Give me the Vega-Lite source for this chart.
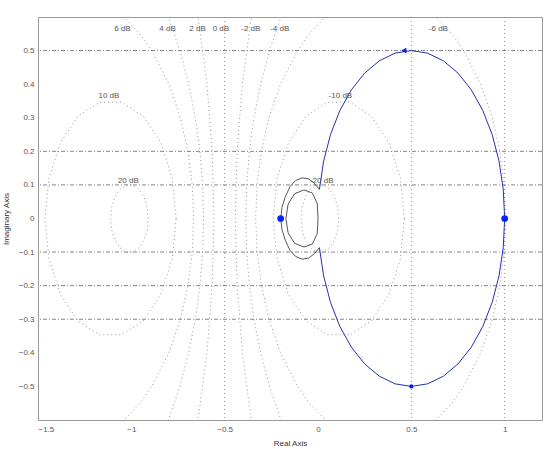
{
  "$schema": "https://vega.github.io/schema/vega-lite/v6.json",
  "width": 504,
  "height": 403,
  "autosize": {"type": "none"},
  "padding": {"left": 38, "top": 17, "right": 4, "bottom": 29},
  "background": "white",
  "config": {
    "view": {"stroke": "#999", "strokeWidth": 1},
    "axis": {"grid": false, "ticks": false, "domain": false, "labelColor": "#555", "labelFont": "Liberation Sans", "labelFontSize": 8, "titleFont": "Liberation Sans", "titleFontSize": 8, "titleFontWeight": "normal", "titleColor": "#333"},
    "text": {"font": "Liberation Sans"}
  },
  "datasets": {
    "hg": [{"y": 0.5}, {"y": 0.2}, {"y": 0.1}, {"y": -0.1}, {"y": -0.2}, {"y": -0.3}],
    "vg": [{"x": 0.5}, {"x": 1.0}, {"x": -0.5}],
    "mc": [
      {"c": "2dB", "o": 0, "x": -0.674, "y": -0.7}, {"c": "2dB", "o": 1, "x": -0.643, "y": -0.6}, {"c": "2dB", "o": 2, "x": -0.595, "y": -0.4}, {"c": "2dB", "o": 3, "x": -0.567, "y": -0.2}, {"c": "2dB", "o": 4, "x": -0.557, "y": 0}, {"c": "2dB", "o": 5, "x": -0.567, "y": 0.2}, {"c": "2dB", "o": 6, "x": -0.595, "y": 0.4}, {"c": "2dB", "o": 7, "x": -0.643, "y": 0.6}, {"c": "2dB", "o": 8, "x": -0.674, "y": 0.7},
      {"c": "-2dB", "o": 0, "x": -0.3257, "y": -0.7}, {"c": "-2dB", "o": 1, "x": -0.3574, "y": -0.6}, {"c": "-2dB", "o": 2, "x": -0.4052, "y": -0.4}, {"c": "-2dB", "o": 3, "x": -0.4334, "y": -0.2}, {"c": "-2dB", "o": 4, "x": -0.443, "y": 0}, {"c": "-2dB", "o": 5, "x": -0.4334, "y": 0.2}, {"c": "-2dB", "o": 6, "x": -0.4052, "y": 0.4}, {"c": "-2dB", "o": 7, "x": -0.3574, "y": 0.6}, {"c": "-2dB", "o": 8, "x": -0.3257, "y": 0.7},
      {"c": "4dB", "o": 0, "x": -0.881, "y": -0.7}, {"c": "4dB", "o": 1, "x": -0.8018, "y": -0.6}, {"c": "4dB", "o": 2, "x": -0.74, "y": -0.5}, {"c": "4dB", "o": 3, "x": -0.6924, "y": -0.4}, {"c": "4dB", "o": 4, "x": -0.657, "y": -0.3}, {"c": "4dB", "o": 5, "x": -0.6324, "y": -0.2}, {"c": "4dB", "o": 6, "x": -0.6179, "y": -0.1}, {"c": "4dB", "o": 7, "x": -0.6131, "y": 0}, {"c": "4dB", "o": 8, "x": -0.6179, "y": 0.1}, {"c": "4dB", "o": 9, "x": -0.6324, "y": 0.2}, {"c": "4dB", "o": 10, "x": -0.657, "y": 0.3}, {"c": "4dB", "o": 11, "x": -0.6924, "y": 0.4}, {"c": "4dB", "o": 12, "x": -0.74, "y": 0.5}, {"c": "4dB", "o": 13, "x": -0.8018, "y": 0.6}, {"c": "4dB", "o": 14, "x": -0.881, "y": 0.7},
      {"c": "-4dB", "o": 0, "x": -0.1189, "y": -0.7}, {"c": "-4dB", "o": 1, "x": -0.1982, "y": -0.6}, {"c": "-4dB", "o": 2, "x": -0.26, "y": -0.5}, {"c": "-4dB", "o": 3, "x": -0.3076, "y": -0.4}, {"c": "-4dB", "o": 4, "x": -0.343, "y": -0.3}, {"c": "-4dB", "o": 5, "x": -0.3676, "y": -0.2}, {"c": "-4dB", "o": 6, "x": -0.3821, "y": -0.1}, {"c": "-4dB", "o": 7, "x": -0.3869, "y": 0}, {"c": "-4dB", "o": 8, "x": -0.3821, "y": 0.1}, {"c": "-4dB", "o": 9, "x": -0.3676, "y": 0.2}, {"c": "-4dB", "o": 10, "x": -0.343, "y": 0.3}, {"c": "-4dB", "o": 11, "x": -0.3076, "y": 0.4}, {"c": "-4dB", "o": 12, "x": -0.26, "y": 0.5}, {"c": "-4dB", "o": 13, "x": -0.1982, "y": 0.6}, {"c": "-4dB", "o": 14, "x": -0.1189, "y": 0.7},
      {"c": "6dB", "o": 0, "x": -1.1758, "y": -0.65}, {"c": "6dB", "o": 1, "x": -1.0388, "y": -0.6}, {"c": "6dB", "o": 2, "x": -0.954, "y": -0.55}, {"c": "6dB", "o": 3, "x": -0.8905, "y": -0.5}, {"c": "6dB", "o": 4, "x": -0.7988, "y": -0.4}, {"c": "6dB", "o": 5, "x": -0.7371, "y": -0.3}, {"c": "6dB", "o": 6, "x": -0.6967, "y": -0.2}, {"c": "6dB", "o": 7, "x": -0.6736, "y": -0.1}, {"c": "6dB", "o": 8, "x": -0.6661, "y": 0}, {"c": "6dB", "o": 9, "x": -0.6736, "y": 0.1}, {"c": "6dB", "o": 10, "x": -0.6967, "y": 0.2}, {"c": "6dB", "o": 11, "x": -0.7371, "y": 0.3}, {"c": "6dB", "o": 12, "x": -0.7988, "y": 0.4}, {"c": "6dB", "o": 13, "x": -0.8905, "y": 0.5}, {"c": "6dB", "o": 14, "x": -0.954, "y": 0.55}, {"c": "6dB", "o": 15, "x": -1.0388, "y": 0.6}, {"c": "6dB", "o": 16, "x": -1.1758, "y": 0.65},
      {"c": "-6dB", "o": 0, "x": 0.3354, "y": 0.6693}, {"c": "-6dB", "o": 1, "x": 0.1758, "y": 0.65}, {"c": "-6dB", "o": 2, "x": 0.0388, "y": 0.6}, {"c": "-6dB", "o": 3, "x": -0.046, "y": 0.55}, {"c": "-6dB", "o": 4, "x": -0.1095, "y": 0.5}, {"c": "-6dB", "o": 5, "x": -0.2012, "y": 0.4}, {"c": "-6dB", "o": 6, "x": -0.2629, "y": 0.3}, {"c": "-6dB", "o": 7, "x": -0.3033, "y": 0.2}, {"c": "-6dB", "o": 8, "x": -0.3264, "y": 0.1}, {"c": "-6dB", "o": 9, "x": -0.3339, "y": 0}, {"c": "-6dB", "o": 10, "x": -0.3264, "y": -0.1}, {"c": "-6dB", "o": 11, "x": -0.3033, "y": -0.2}, {"c": "-6dB", "o": 12, "x": -0.2629, "y": -0.3}, {"c": "-6dB", "o": 13, "x": -0.2012, "y": -0.4}, {"c": "-6dB", "o": 14, "x": -0.1095, "y": -0.5}, {"c": "-6dB", "o": 15, "x": -0.046, "y": -0.55}, {"c": "-6dB", "o": 16, "x": 0.0388, "y": -0.6}, {"c": "-6dB", "o": 17, "x": 0.1758, "y": -0.65}, {"c": "-6dB", "o": 18, "x": 0.3354, "y": -0.6693}, {"c": "-6dB", "o": 19, "x": 0.495, "y": -0.65}, {"c": "-6dB", "o": 20, "x": 0.632, "y": -0.6}, {"c": "-6dB", "o": 21, "x": 0.7168, "y": -0.55}, {"c": "-6dB", "o": 22, "x": 0.7803, "y": -0.5}, {"c": "-6dB", "o": 23, "x": 0.872, "y": -0.4}, {"c": "-6dB", "o": 24, "x": 0.9337, "y": -0.3}, {"c": "-6dB", "o": 25, "x": 0.9741, "y": -0.2}, {"c": "-6dB", "o": 26, "x": 0.9972, "y": -0.1}, {"c": "-6dB", "o": 27, "x": 1.0047, "y": 0}, {"c": "-6dB", "o": 28, "x": 0.9972, "y": 0.1}, {"c": "-6dB", "o": 29, "x": 0.9741, "y": 0.2}, {"c": "-6dB", "o": 30, "x": 0.9337, "y": 0.3}, {"c": "-6dB", "o": 31, "x": 0.872, "y": 0.4}, {"c": "-6dB", "o": 32, "x": 0.7803, "y": 0.5}, {"c": "-6dB", "o": 33, "x": 0.7168, "y": 0.55}, {"c": "-6dB", "o": 34, "x": 0.632, "y": 0.6}, {"c": "-6dB", "o": 35, "x": 0.495, "y": 0.65}, {"c": "-6dB", "o": 36, "x": 0.3354, "y": 0.6693},
      {"c": "10dB", "o": 0, "x": -0.7597, "y": 0}, {"c": "10dB", "o": 1, "x": -0.7809, "y": 0.1202}, {"c": "10dB", "o": 2, "x": -0.8419, "y": 0.2259}, {"c": "10dB", "o": 3, "x": -0.9354, "y": 0.3043}, {"c": "10dB", "o": 4, "x": -1.0501, "y": 0.3461}, {"c": "10dB", "o": 5, "x": -1.1721, "y": 0.3461}, {"c": "10dB", "o": 6, "x": -1.2868, "y": 0.3043}, {"c": "10dB", "o": 7, "x": -1.3803, "y": 0.2259}, {"c": "10dB", "o": 8, "x": -1.4413, "y": 0.1202}, {"c": "10dB", "o": 9, "x": -1.4625, "y": 0}, {"c": "10dB", "o": 10, "x": -1.4413, "y": -0.1202}, {"c": "10dB", "o": 11, "x": -1.3803, "y": -0.2259}, {"c": "10dB", "o": 12, "x": -1.2868, "y": -0.3043}, {"c": "10dB", "o": 13, "x": -1.1721, "y": -0.3461}, {"c": "10dB", "o": 14, "x": -1.0501, "y": -0.3461}, {"c": "10dB", "o": 15, "x": -0.9354, "y": -0.3043}, {"c": "10dB", "o": 16, "x": -0.8419, "y": -0.2259}, {"c": "10dB", "o": 17, "x": -0.7809, "y": -0.1202}, {"c": "10dB", "o": 18, "x": -0.7597, "y": 0},
      {"c": "-10dB", "o": 0, "x": 0.4625, "y": 0}, {"c": "-10dB", "o": 1, "x": 0.4413, "y": 0.1202}, {"c": "-10dB", "o": 2, "x": 0.3803, "y": 0.2259}, {"c": "-10dB", "o": 3, "x": 0.2868, "y": 0.3043}, {"c": "-10dB", "o": 4, "x": 0.1721, "y": 0.3461}, {"c": "-10dB", "o": 5, "x": 0.0501, "y": 0.3461}, {"c": "-10dB", "o": 6, "x": -0.0646, "y": 0.3043}, {"c": "-10dB", "o": 7, "x": -0.1581, "y": 0.2259}, {"c": "-10dB", "o": 8, "x": -0.2191, "y": 0.1202}, {"c": "-10dB", "o": 9, "x": -0.2403, "y": 0}, {"c": "-10dB", "o": 10, "x": -0.2191, "y": -0.1202}, {"c": "-10dB", "o": 11, "x": -0.1581, "y": -0.2259}, {"c": "-10dB", "o": 12, "x": -0.0646, "y": -0.3043}, {"c": "-10dB", "o": 13, "x": 0.0501, "y": -0.3461}, {"c": "-10dB", "o": 14, "x": 0.1721, "y": -0.3461}, {"c": "-10dB", "o": 15, "x": 0.2868, "y": -0.3043}, {"c": "-10dB", "o": 16, "x": 0.3803, "y": -0.2259}, {"c": "-10dB", "o": 17, "x": 0.4413, "y": -0.1202}, {"c": "-10dB", "o": 18, "x": 0.4625, "y": 0},
      {"c": "20dB", "o": 0, "x": -0.9091, "y": 0}, {"c": "20dB", "o": 1, "x": -0.9152, "y": 0.0345}, {"c": "20dB", "o": 2, "x": -0.9327, "y": 0.0649}, {"c": "20dB", "o": 3, "x": -0.9596, "y": 0.0875}, {"c": "20dB", "o": 4, "x": -0.9926, "y": 0.0995}, {"c": "20dB", "o": 5, "x": -1.0276, "y": 0.0995}, {"c": "20dB", "o": 6, "x": -1.0606, "y": 0.0875}, {"c": "20dB", "o": 7, "x": -1.0875, "y": 0.0649}, {"c": "20dB", "o": 8, "x": -1.105, "y": 0.0345}, {"c": "20dB", "o": 9, "x": -1.1111, "y": 0}, {"c": "20dB", "o": 10, "x": -1.105, "y": -0.0345}, {"c": "20dB", "o": 11, "x": -1.0875, "y": -0.0649}, {"c": "20dB", "o": 12, "x": -1.0606, "y": -0.0875}, {"c": "20dB", "o": 13, "x": -1.0276, "y": -0.0995}, {"c": "20dB", "o": 14, "x": -0.9926, "y": -0.0995}, {"c": "20dB", "o": 15, "x": -0.9596, "y": -0.0875}, {"c": "20dB", "o": 16, "x": -0.9327, "y": -0.0649}, {"c": "20dB", "o": 17, "x": -0.9152, "y": -0.0345}, {"c": "20dB", "o": 18, "x": -0.9091, "y": 0},
      {"c": "-20dB", "o": 0, "x": 0.1111, "y": 0}, {"c": "-20dB", "o": 1, "x": 0.105, "y": 0.0345}, {"c": "-20dB", "o": 2, "x": 0.0875, "y": 0.0649}, {"c": "-20dB", "o": 3, "x": 0.0606, "y": 0.0875}, {"c": "-20dB", "o": 4, "x": 0.0276, "y": 0.0995}, {"c": "-20dB", "o": 5, "x": -0.0074, "y": 0.0995}, {"c": "-20dB", "o": 6, "x": -0.0404, "y": 0.0875}, {"c": "-20dB", "o": 7, "x": -0.0673, "y": 0.0649}, {"c": "-20dB", "o": 8, "x": -0.0848, "y": 0.0345}, {"c": "-20dB", "o": 9, "x": -0.0909, "y": 0}, {"c": "-20dB", "o": 10, "x": -0.0848, "y": -0.0345}, {"c": "-20dB", "o": 11, "x": -0.0673, "y": -0.0649}, {"c": "-20dB", "o": 12, "x": -0.0404, "y": -0.0875}, {"c": "-20dB", "o": 13, "x": -0.0074, "y": -0.0995}, {"c": "-20dB", "o": 14, "x": 0.0276, "y": -0.0995}, {"c": "-20dB", "o": 15, "x": 0.0606, "y": -0.0875}, {"c": "-20dB", "o": 16, "x": 0.0875, "y": -0.0649}, {"c": "-20dB", "o": 17, "x": 0.105, "y": -0.0345}, {"c": "-20dB", "o": 18, "x": 0.1111, "y": 0}
    ],
    "nyq": [
      {"o": 0, "x": 0.0076, "y": 0.0868}, {"o": 1, "x": 0.0302, "y": 0.171}, {"o": 2, "x": 0.067, "y": 0.25}, {"o": 3, "x": 0.117, "y": 0.3214}, {"o": 4, "x": 0.1786, "y": 0.383}, {"o": 5, "x": 0.25, "y": 0.433}, {"o": 6, "x": 0.329, "y": 0.4698}, {"o": 7, "x": 0.4132, "y": 0.4924}, {"o": 8, "x": 0.5, "y": 0.5}, {"o": 9, "x": 0.5868, "y": 0.4924}, {"o": 10, "x": 0.671, "y": 0.4698}, {"o": 11, "x": 0.75, "y": 0.433}, {"o": 12, "x": 0.8214, "y": 0.383}, {"o": 13, "x": 0.883, "y": 0.3214}, {"o": 14, "x": 0.933, "y": 0.25}, {"o": 15, "x": 0.9698, "y": 0.171}, {"o": 16, "x": 0.9924, "y": 0.0868}, {"o": 17, "x": 1.0, "y": 0},
      {"o": 18, "x": 0.9924, "y": -0.0868}, {"o": 19, "x": 0.9698, "y": -0.171}, {"o": 20, "x": 0.933, "y": -0.25}, {"o": 21, "x": 0.883, "y": -0.3214}, {"o": 22, "x": 0.8214, "y": -0.383}, {"o": 23, "x": 0.75, "y": -0.433}, {"o": 24, "x": 0.671, "y": -0.4698}, {"o": 25, "x": 0.5868, "y": -0.4924}, {"o": 26, "x": 0.5, "y": -0.5}, {"o": 27, "x": 0.4132, "y": -0.4924}, {"o": 28, "x": 0.329, "y": -0.4698}, {"o": 29, "x": 0.25, "y": -0.433}, {"o": 30, "x": 0.1786, "y": -0.383}, {"o": 31, "x": 0.117, "y": -0.3214}, {"o": 32, "x": 0.067, "y": -0.25}, {"o": 33, "x": 0.0302, "y": -0.171}, {"o": 34, "x": 0.0076, "y": -0.0868}
    ],
    "loop": [
      {"s": "outer", "o": 0, "x": 0.0076, "y": 0.0868}, {"s": "outer", "o": 1, "x": -0.02, "y": 0.105}, {"s": "outer", "o": 2, "x": -0.05, "y": 0.118}, {"s": "outer", "o": 3, "x": -0.085, "y": 0.121}, {"s": "outer", "o": 4, "x": -0.12, "y": 0.113}, {"s": "outer", "o": 5, "x": -0.15, "y": 0.095}, {"s": "outer", "o": 6, "x": -0.175, "y": 0.065}, {"s": "outer", "o": 7, "x": -0.193, "y": 0.033}, {"s": "outer", "o": 8, "x": -0.2, "y": 0}, {"s": "outer", "o": 9, "x": -0.193, "y": -0.033}, {"s": "outer", "o": 10, "x": -0.175, "y": -0.065}, {"s": "outer", "o": 11, "x": -0.15, "y": -0.095}, {"s": "outer", "o": 12, "x": -0.12, "y": -0.113}, {"s": "outer", "o": 13, "x": -0.085, "y": -0.121}, {"s": "outer", "o": 14, "x": -0.05, "y": -0.118}, {"s": "outer", "o": 15, "x": -0.02, "y": -0.105}, {"s": "outer", "o": 16, "x": 0.0076, "y": -0.0868},
      {"s": "inner", "o": 0, "x": 0.0, "y": 0}, {"s": "inner", "o": 1, "x": -0.004, "y": 0.045}, {"s": "inner", "o": 2, "x": -0.03, "y": 0.076}, {"s": "inner", "o": 3, "x": -0.075, "y": 0.085}, {"s": "inner", "o": 4, "x": -0.125, "y": 0.074}, {"s": "inner", "o": 5, "x": -0.16, "y": 0.043}, {"s": "inner", "o": 6, "x": -0.172, "y": 0}, {"s": "inner", "o": 7, "x": -0.16, "y": -0.043}, {"s": "inner", "o": 8, "x": -0.125, "y": -0.074}, {"s": "inner", "o": 9, "x": -0.075, "y": -0.085}, {"s": "inner", "o": 10, "x": -0.03, "y": -0.076}, {"s": "inner", "o": 11, "x": -0.004, "y": -0.045}, {"s": "inner", "o": 12, "x": 0.0, "y": 0}
    ],
    "dots": [{"x": -0.2, "y": 0, "k": "big"}, {"x": 1.0, "y": 0, "k": "big"}, {"x": 0.5, "y": -0.5, "k": "small"}],
    "labels": [
      {"t": "6 dB", "x": -1.048, "y": 0.565}, {"t": "4 dB", "x": -0.806, "y": 0.565}, {"t": "2 dB", "x": -0.645, "y": 0.565}, {"t": "0 dB", "x": -0.52, "y": 0.565}, {"t": "-2 dB", "x": -0.36, "y": 0.565}, {"t": "-4 dB", "x": -0.205, "y": 0.565}, {"t": "-6 dB", "x": 0.645, "y": 0.565},
      {"t": "10 dB", "x": -1.12, "y": 0.366}, {"t": "-10 dB", "x": 0.12, "y": 0.366}, {"t": "20 dB", "x": -1.016, "y": 0.113}, {"t": "-20 dB", "x": 0.02, "y": 0.113}
    ]
  },
  "layer": [
    {
      "data": {"name": "hg"},
      "mark": {"type": "rule", "color": "#666", "strokeWidth": 0.8, "strokeDash": [4, 2, 1, 2]},
      "encoding": {
        "y": {"field": "y", "type": "quantitative", "scale": {"domain": [-0.6, 0.6], "nice": false, "zero": false}, "axis": {"values": [-0.5, -0.4, -0.3, -0.2, -0.1, 0, 0.1, 0.2, 0.3, 0.4, 0.5], "format": ".1~f", "title": "Imaginary Axis", "labelPadding": 4, "titlePadding": 8}}
      }
    },
    {
      "data": {"name": "vg"},
      "mark": {"type": "rule", "color": "#777", "strokeWidth": 0.8, "strokeDash": [1, 3]},
      "encoding": {
        "x": {"field": "x", "type": "quantitative", "scale": {"domain": [-1.5, 1.2], "nice": false, "zero": false}, "axis": {"values": [-1.5, -1, -0.5, 0, 0.5, 1], "format": ".1~f", "title": "Real Axis", "labelPadding": 5, "titlePadding": 6}}
      }
    },
    {
      "data": {"name": "mc"},
      "mark": {"type": "line", "clip": true, "color": "#777", "strokeWidth": 0.8, "strokeDash": [1, 3]},
      "encoding": {
        "x": {"field": "x", "type": "quantitative"},
        "y": {"field": "y", "type": "quantitative"},
        "detail": {"field": "c"},
        "order": {"field": "o", "type": "quantitative"}
      }
    },
    {
      "data": {"name": "loop"},
      "mark": {"type": "line", "clip": true, "color": "#444", "strokeWidth": 0.9},
      "encoding": {
        "x": {"field": "x", "type": "quantitative"},
        "y": {"field": "y", "type": "quantitative"},
        "detail": {"field": "s"},
        "order": {"field": "o", "type": "quantitative"}
      }
    },
    {
      "data": {"name": "nyq"},
      "mark": {"type": "line", "clip": true, "color": "#2233aa", "strokeWidth": 1},
      "encoding": {
        "x": {"field": "x", "type": "quantitative"},
        "y": {"field": "y", "type": "quantitative"},
        "order": {"field": "o", "type": "quantitative"}
      }
    },
    {
      "data": {"values": [{"x": 0.46, "y": 0.5}]},
      "mark": {"type": "point", "shape": "triangle-left", "filled": true, "color": "#1122cc", "size": 35, "opacity": 1},
      "encoding": {
        "x": {"field": "x", "type": "quantitative"},
        "y": {"field": "y", "type": "quantitative"}
      }
    },
    {
      "data": {"name": "dots"},
      "mark": {"type": "point", "shape": "circle", "filled": true, "color": "#0a22ee", "opacity": 1},
      "encoding": {
        "x": {"field": "x", "type": "quantitative"},
        "y": {"field": "y", "type": "quantitative"},
        "size": {"field": "k", "type": "nominal", "scale": {"domain": ["big", "small"], "range": [45, 18]}, "legend": null}
      }
    },
    {
      "data": {"name": "labels"},
      "mark": {"type": "text", "fontSize": 8, "color": "#555", "align": "center", "baseline": "middle"},
      "encoding": {
        "x": {"field": "x", "type": "quantitative"},
        "y": {"field": "y", "type": "quantitative"},
        "text": {"field": "t"}
      }
    }
  ]
}
